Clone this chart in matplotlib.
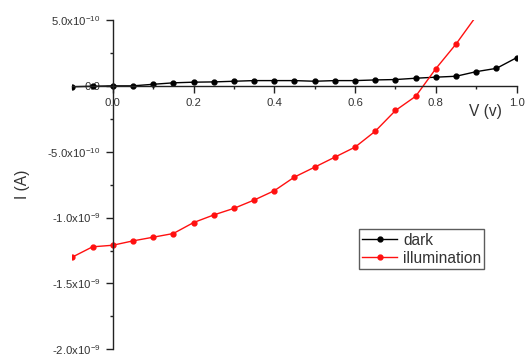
"""I-V curve of the device, dark vs. illuminated."""

import matplotlib

matplotlib.use("Agg")
import matplotlib.pyplot as plt
from matplotlib.ticker import FixedLocator, MultipleLocator

plt.rcParams["font.family"] = ["Liberation Sans", "DejaVu Sans"]
plt.rcParams["mathtext.fontset"] = "custom"
plt.rcParams["mathtext.rm"] = "Liberation Sans"

# bias voltage (V)
volts = [-0.10, -0.05, 0.00, 0.05, 0.10, 0.15, 0.20, 0.25, 0.30, 0.35, 0.40, 0.45,
         0.50, 0.55, 0.60, 0.65, 0.70, 0.75, 0.80, 0.85, 0.90, 0.95, 1.00]

# current in the dark (A)
dark_current = [-0.7e-11, -0.3e-11, 0.0, 0.0, 1.2e-11, 2.3e-11, 2.8e-11, 3.0e-11,
                3.5e-11, 4.0e-11, 4.0e-11, 4.0e-11, 3.5e-11, 4.0e-11, 4.0e-11,
                4.5e-11, 4.8e-11, 5.8e-11, 6.6e-11, 7.3e-11, 10.8e-11, 13.3e-11,
                21.4e-11]

# current under illumination (A), measured up to 0.9 V
illum_current = [-1.300e-9, -1.222e-9, -1.210e-9, -1.177e-9, -1.149e-9, -1.121e-9,
                 -1.038e-9, -0.980e-9, -0.930e-9, -0.867e-9, -0.796e-9, -0.692e-9,
                 -0.617e-9, -0.541e-9, -0.465e-9, -0.344e-9, -0.187e-9, -0.079e-9,
                 0.131e-9, 0.318e-9, 0.530e-9]

y_ticks = [5.0e-10, 0.0, -5.0e-10, -1.0e-9, -1.5e-9, -2.0e-9]
y_tick_labels = [r"5.0x10$^{\mathregular{-10}}$", "0.0", r"-5.0x10$^{\mathregular{-10}}$",
                 r"-1.0x10$^{\mathregular{-9}}$", r"-1.5x10$^{\mathregular{-9}}$",
                 r"-2.0x10$^{\mathregular{-9}}$"]
x_ticks = [0.0, 0.2, 0.4, 0.6, 0.8, 1.0]
x_tick_labels = ["0.0", "0.2", "0.4", "0.6", "0.8", "1.0"]

text_color = "#333333"

fig = plt.figure(figsize=(5.29, 3.56), dpi=100)
ax = fig.add_axes([0.1367, 0.0188, 0.8400, 0.9250])

ax.plot(volts, dark_current, "-o", color="black", linewidth=1.0, markersize=3.5,
        label="dark")
ax.plot(volts[:len(illum_current)], illum_current, "-o", color="#ff1010", linewidth=1.0,
        markersize=3.5, label="illumination")

ax.set_xlim(-0.1, 1.0)
ax.set_ylim(-2.0e-9, 5.0e-10)

# axes crossing at the origin
ax.spines["left"].set_position(("data", 0.0))
ax.spines["bottom"].set_position(("data", 0.0))
ax.spines["top"].set_visible(False)
ax.spines["right"].set_visible(False)
for side in ("left", "bottom"):
    ax.spines[side].set_color("#222222")
    ax.spines[side].set_linewidth(1.0)

ax.yaxis.set_major_locator(FixedLocator(y_ticks))
ax.set_yticklabels(y_tick_labels)
ax.yaxis.set_minor_locator(MultipleLocator(2.5e-10))
ax.xaxis.set_major_locator(FixedLocator(x_ticks))
ax.set_xticklabels(x_tick_labels)
ax.xaxis.set_minor_locator(MultipleLocator(0.1))

ax.tick_params(which="major", direction="out", length=4.8, width=1.0, color="#222222",
               labelsize=8.2, labelcolor=text_color, pad=4.0)
ax.tick_params(which="minor", direction="out", length=2.5, width=1.0, color="#222222")

ax.set_xlabel("V (v)", fontsize=11.2, color=text_color)
ax.xaxis.set_label_coords(0.929, 0.745)
ax.set_ylabel("I (A)", fontsize=11.2, color=text_color)
ax.yaxis.set_label_coords(-0.095, 0.5)

leg = ax.legend(loc="upper left", bbox_to_anchor=(0.646, 0.364), borderaxespad=0.0,
                fontsize=11.2, frameon=True, fancybox=False, borderpad=0.2,
                labelspacing=0.2, handlelength=2.2, handletextpad=0.4)
leg.get_frame().set_edgecolor("#333333")
leg.get_frame().set_linewidth(1.0)
for text in leg.get_texts():
    text.set_color(text_color)

fig.savefig("out.png", dpi=100)
plt.close(fig)
